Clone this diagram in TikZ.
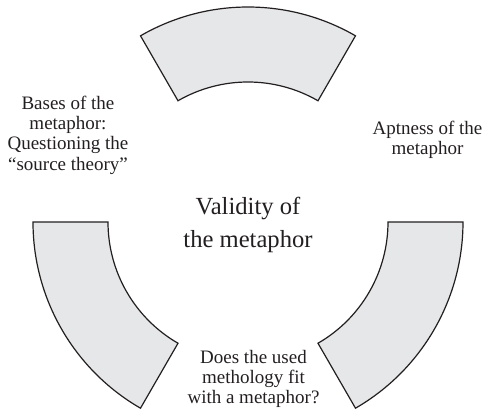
\documentclass[tikz,border=0pt]{standalone}
\usepackage{fontspec}
\setmainfont{Liberation Serif}
\usepackage{xcolor}
\usetikzlibrary{positioning}
\definecolor{segfill}{RGB}{230,231,232}
\definecolor{segline}{RGB}{35,31,32}

\begin{document}
\begin{tikzpicture}[
    segment/.style={fill=segfill, draw=segline, line width=0.6pt, line join=miter},
    sidetext/.style={text=segline, align=center, inner sep=0pt, font=\fontsize{9.5}{10.2}\selectfont},
    maintext/.style={text=segline, align=center, inner sep=0pt, font=\fontsize{12.3}{16.5}\selectfont}]

\useasboundingbox (-124pt,-96pt) rectangle (118pt,111pt);

\foreach \a in {60,180,300}
  \draw [segment] (\a:107.5pt) arc[start angle=\a, end angle=\a+60, radius=107.5pt]
    -- (\a+60:70pt) arc[start angle=\a+60, end angle=\a, radius=70pt] -- cycle;

\node (validity) [maintext] at (0pt,-1.5pt) {Validity of\\the metaphor};
\node (bases) [sidetext] at (-90pt,43.5pt) {Bases of the\\metaphor:\\Questioning the\\``source theory''};
\node (aptness) [sidetext] at (89.75pt,41pt) {Aptness of the\\metaphor};
\node (method) [sidetext] at (2.75pt,-78.5pt) {Does the used\\methology fit\\with a metaphor?};

\end{tikzpicture}
\end{document}
